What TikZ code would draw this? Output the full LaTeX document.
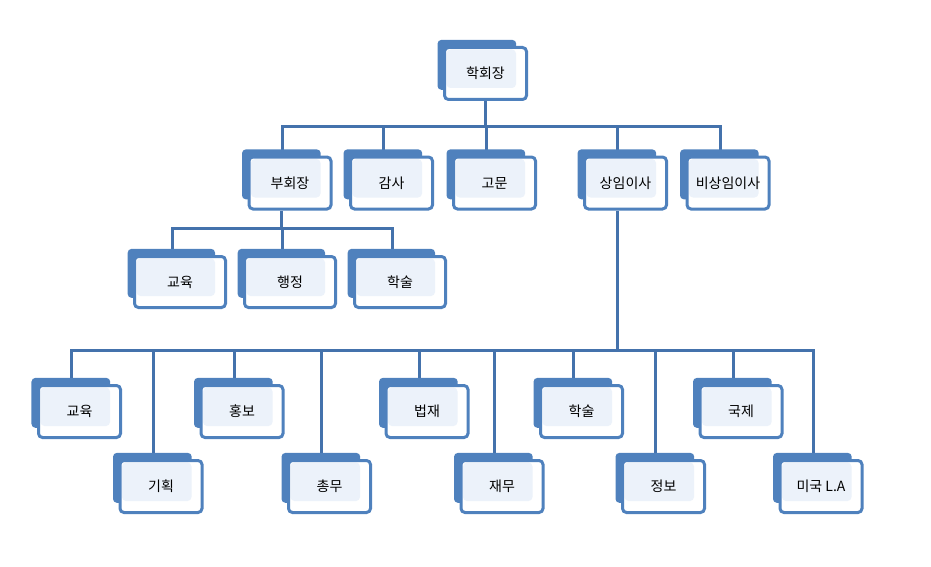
\documentclass[tikz,border=0pt]{standalone}
\usepackage{fontspec}
\newfontfamily\krfont{Noto Sans CJK KR}
\usetikzlibrary{shadows,backgrounds}

\definecolor{orgblue}{RGB}{79,129,189}
\definecolor{orgline}{RGB}{68,114,172}
\definecolor{orglight}{RGB}{236,242,250}

\tikzset{
  unit/.style={draw=orgblue, line width=3pt, fill=white, rounded corners=4pt,
    minimum width=82pt, minimum height=52pt, inner sep=0pt,
    font=\krfont\fontsize{14}{16}\selectfont,
    general shadow={fill=orgblue, shadow xshift=-9pt, shadow yshift=9pt, shadow scale=0.96},
    path picture={\fill[orglight] ([shift={(2pt,-2pt)}]path picture bounding box.north west)
      rectangle ([shift={(-10.5pt,11.5pt)}]path picture bounding box.south east);}},
  wideunit/.style={unit, minimum width=91pt, minimum height=51pt},
  link/.style={draw=orgline, line width=3pt}
}

\begin{document}
\begin{tikzpicture}[x=1pt,y=-1pt]
    \useasboundingbox (0,0) rectangle (931,567);

    % top
    \node[unit] (pres) at (485.5,73.5) {학회장};

    % second row
    \node[unit] (vp) at (290,183) {부회장};
    \node[unit] (audit) at (391.5,183) {감사};
    \node[unit] (adv) at (494.5,183) {고문};
    \node[unit] (exec) at (625.5,183) {상임이사};
    \node[unit] (nonexec) at (728,183) {비상임이사};

    % under vice president
    \node[wideunit] (vpedu) at (180,282) {교육};
    \node[wideunit] (vpadm) at (290,282) {행정};
    \node[wideunit] (vpacad) at (400,282) {학술};

    % under executive directors
    \node[unit] (edu) at (79.5,411.5) {교육};
    \node[unit] (plan) at (161,486.5) {기획};
    \node[unit] (pr) at (242,411.5) {홍보};
    \node[unit] (gen) at (329.5,486.5) {총무};
    \node[unit] (law) at (427,411.5) {법재};
    \node[unit] (fin) at (502,486.5) {재무};
    \node[unit] (acad) at (581.5,411.5) {학술};
    \node[unit] (info) at (663.5,486.5) {정보};
    \node[unit] (intl) at (741,411.5) {국제};
    \node[unit] (la) at (821,486.5) {미국 L.A};

    \begin{scope}[on background layer]
        \coordinate (hubtop) at ([yshift=-26pt]pres.south);
        \draw[link] (pres.south) -- (hubtop);
        \foreach \n in {vp,audit,adv,exec,nonexec}
            \draw[link] (hubtop) -| ([xshift=-8pt]\n.north);

        \coordinate (hubvp) at ([xshift=-9pt,yshift=-18pt]vp.south);
        \draw[link] ([xshift=-9pt]vp.south) -- (hubvp);
        \foreach \n in {vpedu,vpadm,vpacad}
            \draw[link] (hubvp) -| ([xshift=-8pt]\n.north);

        \coordinate (hubexec) at ([xshift=-8.5pt,yshift=-140pt]exec.south);
        \draw[link] ([xshift=-8.5pt]exec.south) -- (hubexec);
        \foreach \n in {edu,plan,pr,gen,law,fin,acad,info,intl,la}
            \draw[link] (hubexec) -| ([xshift=-8pt]\n.north);
    \end{scope}
\end{tikzpicture}
\end{document}
